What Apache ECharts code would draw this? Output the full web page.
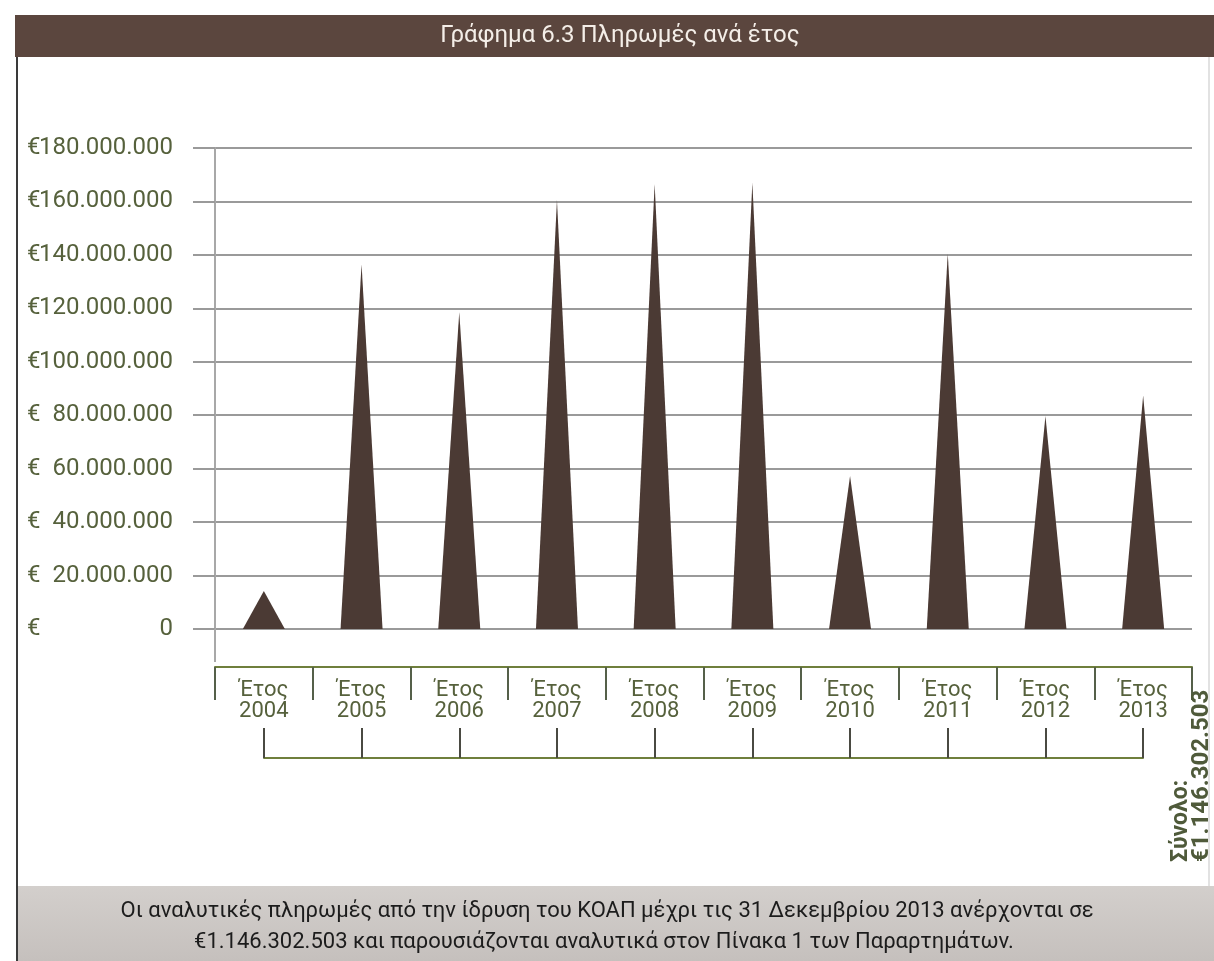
<!DOCTYPE html>
<html>
<head>
<meta charset="utf-8">
<script src="https://cdn.jsdelivr.net/npm/echarts@6/dist/echarts.min.js"></script>
<style>
html,body{margin:0;padding:0;background:#fff;}
#chart{width:1214px;height:961px;}
</style>
</head>
<body>
<div id="chart"></div>
<script>
// ---- data ----
const years = ['2004','2005','2006','2007','2008','2009','2010','2011','2012','2013'];
const payments = [14200000, 136500000, 118500000, 160500000, 166500000, 167000000, 57300000, 140500000, 79700000, 87400000];
const yTicks = [0, 20000000, 40000000, 60000000, 80000000, 100000000, 120000000, 140000000, 160000000, 180000000];
const titleText = 'Γράφημα 6.3 Πληρωμές ανά έτος';
const totalLabel = 'Σύνολο:';
const totalValue = '€1.146.302.503';
const footerLines = [
  'Οι αναλυτικές πληρωμές από την ίδρυση του ΚΟΑΠ μέχρι τις 31 Δεκεμβρίου 2013 ανέρχονται σε',
  '€1.146.302.503 και παρουσιάζονται αναλυτικά στον Πίνακα 1 των Παραρτημάτων.'
];

function fmt(v){
  return String(Math.round(v)).replace(/\B(?=(\d{3})+(?!\d))/g, '.');
}

const FONT = 'Roboto';
const olive = '#56613c';
const green = '#6f7f3c';
const chart = echarts.init(document.getElementById('chart'));

chart.setOption({
  animation: false,
  backgroundColor: '#ffffff',
  grid: [
    {left: 215, right: 22, top: 148, bottom: 332},
    {left: 264, right: 71, top: 700, bottom: 203}
  ],
  xAxis: [
    {
      type: 'category', gridIndex: 0, data: years, offset: 38,
      axisLine: {show: true, onZero: false, lineStyle: {color: green, width: 2}},
      axisTick: {show: true, length: 33, interval: 0, lineStyle: {color: '#55604a', width: 2}},
      axisLabel: {
        interval: 0, margin: 13, color: olive, fontFamily: FONT, fontSize: 22, lineHeight: 21,
        formatter: v => 'Έτος\n' + v
      },
      splitLine: {show: false}
    },
    {
      type: 'category', gridIndex: 1, data: years, boundaryGap: false,
      axisLine: {show: true, onZero: false, lineStyle: {color: green, width: 2}},
      axisTick: {show: true, inside: true, length: 30, interval: 0, lineStyle: {color: '#4a4a42', width: 2}},
      axisLabel: {show: false},
      splitLine: {show: false}
    }
  ],
  yAxis: [
    {
      type: 'value', gridIndex: 0, min: 0, max: 180000000, interval: 20000000,
      axisLine: {show: true, lineStyle: {color: '#a8a8a8', width: 2}},
      axisTick: {show: true, length: 22, lineStyle: {color: '#9a9a9a', width: 2}},
      splitLine: {show: true, lineStyle: {color: '#9a9a9a', width: 2}},
      axisLabel: {
        margin: 42, color: olive, fontFamily: FONT,
        formatter: v => '{e|€}{n|' + fmt(v) + '}',
        rich: {
          e: {width: 13, align: 'left', fontSize: 24, fontFamily: FONT, color: olive},
          n: {width: 133, align: 'right', fontSize: 24, fontFamily: FONT, color: olive}
        }
      }
    },
    {type: 'value', gridIndex: 1, show: false, min: 0, max: 1}
  ],
  series: [
    {
      type: 'pictorialBar', xAxisIndex: 0, yAxisIndex: 0,
      symbol: 'triangle', symbolSize: [42, '100%'],
      itemStyle: {color: '#4b3a34'},
      data: payments, z: 3
    }
  ],
  graphic: [
    {type: 'rect', shape: {x: 15, y: 15, width: 1199, height: 42}, style: {fill: '#5b463e'}, z: 10},
    {type: 'text', x: 620, y: 36, style: {text: titleText, fill: '#f4eee8', font: '24px ' + FONT, align: 'center', verticalAlign: 'middle'}, z: 11},
    {type: 'line', shape: {x1: 17, y1: 57, x2: 17, y2: 961}, style: {stroke: '#3a3a3a', lineWidth: 2}, z: 10},
    {type: 'line', shape: {x1: 1209, y1: 57, x2: 1209, y2: 886}, style: {stroke: '#e2e2e2', lineWidth: 2}, z: 10},
    {type: 'line', shape: {x1: 215, y1: 629, x2: 215, y2: 662}, style: {stroke: '#a8a8a8', lineWidth: 2}, z: 5},
    {type: 'rect', shape: {x: 18, y: 886, width: 1196, height: 75},
      style: {fill: new echarts.graphic.LinearGradient(0, 0, 0, 1, [{offset: 0, color: '#d3cfcc'}, {offset: 1, color: '#c5c0bd'}])}, z: 10},
    {type: 'text', x: 607, y: 911, style: {text: footerLines[0], fill: '#1c1c1c', font: '22px ' + FONT, align: 'center', verticalAlign: 'middle'}, z: 11},
    {type: 'text', x: 604, y: 942, style: {text: footerLines[1], fill: '#1c1c1c', font: '22px ' + FONT, align: 'center', verticalAlign: 'middle'}, z: 11},
    {type: 'text', x: 1181, y: 862, rotation: Math.PI / 2, style: {text: totalLabel, fill: '#4f5a3a', font: 'bold 23px ' + FONT, align: 'left', verticalAlign: 'middle'}, z: 11},
    {type: 'text', x: 1202, y: 862, rotation: Math.PI / 2, style: {text: totalValue, fill: '#4f5a3a', font: 'bold 24px ' + FONT, align: 'left', verticalAlign: 'middle'}, z: 11}
  ]
});
</script>
</body>
</html>
